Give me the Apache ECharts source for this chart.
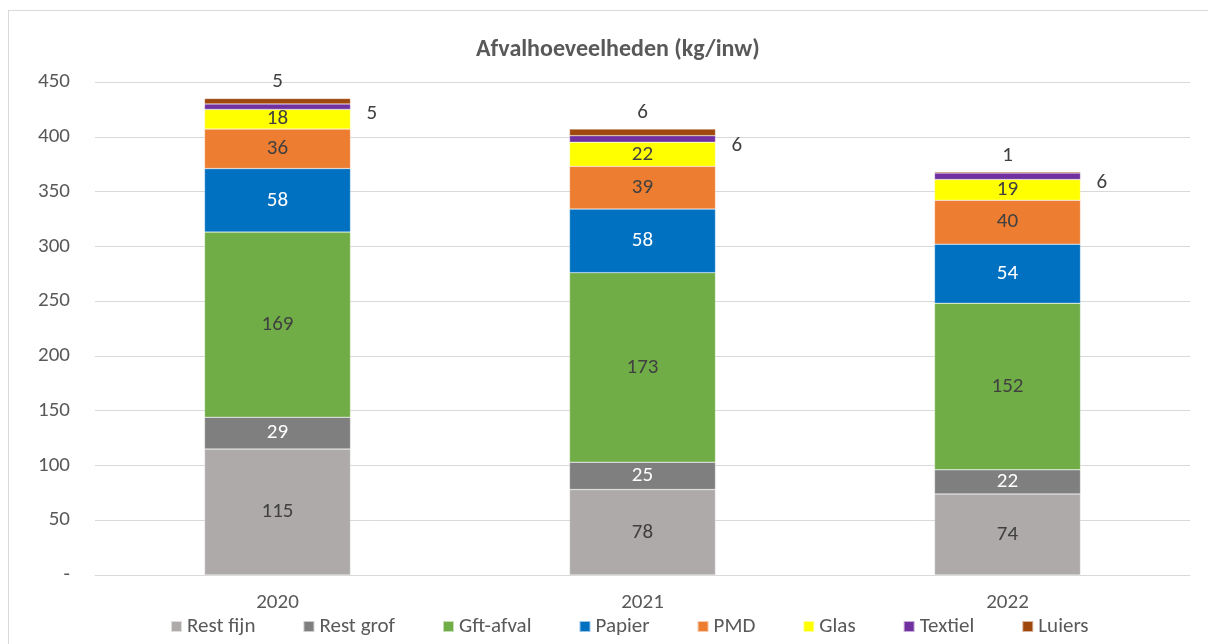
<!DOCTYPE html>
<html>
<head>
<meta charset="utf-8">
<script src="https://cdn.jsdelivr.net/npm/echarts@6/dist/echarts.min.js"></script>
<style>
  html, body { margin: 0; padding: 0; background: #fff; overflow: hidden; width: 1208px; height: 644px; }
  #frame { position: absolute; left: 8px; top: 10px; width: 1210px; height: 650px; border: 1px solid #d9d9d9; box-sizing: border-box; }
  #chart { position: absolute; left: 0; top: 0; width: 1208px; height: 644px; }
</style>
</head>
<body>
<div id="frame"></div>
<div id="chart"></div>
<script>
// jaren en afvalstromen
const years = ['2020', '2021', '2022'];
const restFijn = [115, 78, 74];
const restGrof = [29, 25, 22];
const gft = [169, 173, 152];
const papier = [58, 58, 54];
const pmd = [36, 39, 40];
const glas = [18, 22, 19];
const textiel = [5, 6, 6];
const luiers = [5, 6, 1];
const yTicks = [0, 50, 100, 150, 200, 250, 300, 350, 400, 450];

const font = 'Calibri, Carlito, "Open Sans", sans-serif';
const fs = 21;

function serie(name, data, color, labelColor, pos) {
    return {
        name: name,
        type: 'bar',
        stack: 'afval',
        barWidth: '40%',
        data: data,
        itemStyle: { color: color, borderColor: 'rgba(255,255,255,0.6)', borderWidth: 0.5 },
        label: {
            show: true,
            position: pos || 'inside',
            color: labelColor,
            fontSize: fs,
            fontFamily: font,
            distance: pos === 'right' ? 16 : 6,
            offset: pos === 'right' ? [0, 7] : [0, 0]
        }
    };
}

const chart = echarts.init(document.getElementById('chart'));
chart.setOption({
    animation: false,
    title: {
        text: 'Afvalhoeveelheden (kg/inw)',
        left: 471,
        top: 33,
        textStyle: { fontFamily: font, fontSize: 24, fontWeight: 'bold', color: '#595959' }
    },
    grid: { left: 95, right: 18, top: 82, bottom: 69 },
    legend: {
        bottom: 2,
        left: 165,
        itemWidth: 11,
        itemHeight: 11,
        itemGap: 47,
        icon: 'rect',
        textStyle: { fontFamily: font, fontSize: fs, color: '#595959' }
    },
    xAxis: {
        type: 'category',
        data: years,
        axisLine: { lineStyle: { color: '#d9d9d9' } },
        axisTick: { show: false },
        axisLabel: { fontFamily: font, fontSize: fs, color: '#595959', margin: 17 }
    },
    yAxis: {
        type: 'value',
        min: 0,
        max: 450,
        interval: 50,
        axisLine: { show: false },
        axisTick: { show: false },
        splitLine: { lineStyle: { color: '#d9d9d9' } },
        axisLabel: {
            fontFamily: font, fontSize: fs, color: '#595959', margin: 25,
            formatter: function (v) { return yTicks.indexOf(v) === 0 ? '-' : String(v); }
        }
    },
    series: [
        serie('Rest fijn', restFijn, '#AEAAAA', '#404040'),
        serie('Rest grof', restGrof, '#7F7F7F', '#ffffff'),
        serie('Gft-afval', gft, '#70AD47', '#404040'),
        serie('Papier', papier, '#0070C0', '#ffffff'),
        serie('PMD', pmd, '#ED7D31', '#404040'),
        serie('Glas', glas, '#FFFF00', '#404040'),
        serie('Textiel', textiel, '#7030A0', '#404040', 'right'),
        serie('Luiers', luiers, '#9E480E', '#404040', 'top')
    ]
});
</script>
</body>
</html>
